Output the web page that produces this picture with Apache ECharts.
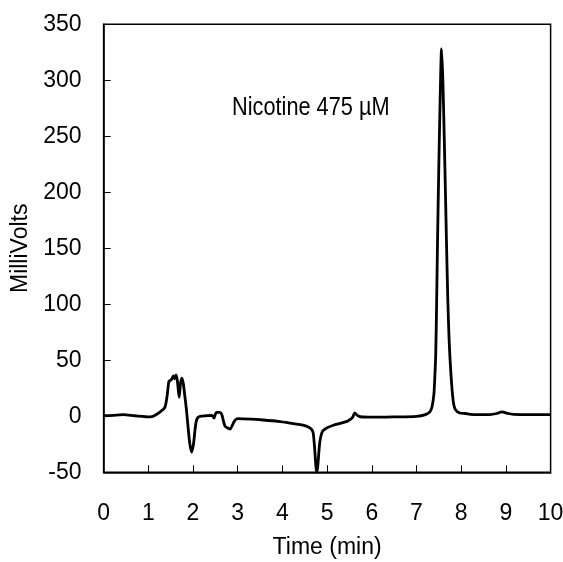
<!DOCTYPE html>
<html>
<head>
<meta charset="utf-8">
<script src="https://cdn.jsdelivr.net/npm/echarts@6/dist/echarts.min.js"></script>
<style>
html,body{margin:0;padding:0;background:#fff;}
#chart{width:563px;height:562px;}
</style>
</head>
<body>
<div id="chart"></div>
<script>
var timeMin = [0, 0.2, 0.44, 0.7, 1.04, 1.11, 1.25, 1.37, 1.42, 1.46, 1.49, 1.52, 1.56, 1.59, 1.62, 1.65, 1.69, 1.72, 1.75, 1.78, 1.80, 1.83, 1.86, 1.90, 1.93, 1.97, 2.01, 2.04, 2.07, 2.11, 2.16, 2.30, 2.42, 2.47, 2.50, 2.53, 2.60, 2.64, 2.68, 2.72, 2.78, 2.83, 2.88, 2.94, 3.01, 3.3, 3.57, 3.9, 4.17, 4.4, 4.55, 4.62, 4.66, 4.69, 4.72, 4.75, 4.77, 4.79, 4.82, 4.84, 4.88, 4.92, 4.99, 5.14, 5.29, 5.45, 5.51, 5.57, 5.62, 5.67, 5.74, 6.03, 6.5, 7.0, 7.20, 7.30, 7.35, 7.39, 7.41, 7.43, 7.45, 7.47, 7.50, 7.53, 7.56, 7.59, 7.62, 7.65, 7.67, 7.70, 7.73, 7.77, 7.82, 7.87, 7.97, 8.10, 8.20, 8.64, 8.80, 8.91, 9.05, 9.17, 9.5, 10];
var milliVolts = [0.5, 0.8, 1.5, 0.5, -0.5, 0, 3.5, 8, 18, 31, 32, 33, 36, 33.5, 37, 32, 17, 29, 34, 30, 24, 14, 3, -14, -25, -32, -25, -14, -5, -1, 0, 0.5, 0.8, -1.5, 2, 3.5, 3.5, 2, -4, -9, -10.5, -11.5, -8, -3.5, -2, -2.5, -3.3, -4.5, -6, -7.5, -9, -10.5, -12, -15, -28, -45, -50, -45, -30, -22, -15, -12.5, -10.5, -8, -6.3, -4.5, -3, -1, 3, 1, -0.4, -0.8, -0.5, 0, 1.5, 4, 9, 20, 35, 55, 100, 155, 225, 285, 328, 300, 250, 195, 157, 105, 68, 38, 14, 6, 3, 2.5, 1.8, 1.5, 2.5, 4, 2.5, 1.8, 1.5, 1.5];
var xTicks = [0, 1, 2, 3, 4, 5, 6, 7, 8, 9, 10];
var yTicks = [-50, 0, 50, 100, 150, 200, 250, 300, 350];
var annotation = 'Nicotine 475 \u00b5M';
var xTitle = 'Time (min)';
var yTitle = 'MilliVolts';

var FONT = '"Liberation Sans", Arial, sans-serif';
var pts = timeMin.map(function (t, i) { return [t, milliVolts[i]]; });

var chart = echarts.init(document.getElementById('chart'), null, {renderer: 'canvas'});
chart.setOption({
  backgroundColor: '#fff',
  animation: false,
  grid: {left: 103.6, right: 12.4, top: 24.3, bottom: 89.7, containLabel: false, outerBoundsMode: 'none', show: true, borderColor: '#000', borderWidth: 1.5, backgroundColor: 'transparent'},
  xAxis: {
    type: 'value', min: xTicks[0], max: xTicks[xTicks.length - 1], interval: 1,
    name: xTitle, nameLocation: 'middle', nameGap: 64,
    nameTextStyle: {fontFamily: FONT, fontSize: 23, color: '#000'},
    axisLine: {show: true, onZero: false, lineStyle: {color: '#000', width: 1.5}},
    axisTick: {show: true, inside: true, length: 7, lineStyle: {color: '#000', width: 1}},
    axisLabel: {fontFamily: FONT, fontSize: 23, color: '#000', margin: 30},
    splitLine: {show: false}
  },
  yAxis: {
    type: 'value', min: yTicks[0], max: yTicks[yTicks.length - 1], interval: 50,
    name: yTitle, nameLocation: 'middle', nameGap: 68, nameRotate: 90,
    nameTextStyle: {fontFamily: FONT, fontSize: 23, color: '#000'},
    axisLine: {show: true, onZero: false, lineStyle: {color: '#000', width: 1.5}},
    axisTick: {show: true, inside: true, length: 7, lineStyle: {color: '#000', width: 1}},
    axisLabel: {fontFamily: FONT, fontSize: 23, color: '#000', margin: 22},
    splitLine: {show: false}
  },
  graphic: [{
    type: 'text', left: 232, top: 96, scaleX: 0.87,
    style: {text: annotation, fontFamily: FONT, fontSize: 25, fill: '#000'}
  }],
  series: [{
    type: 'line', data: pts, showSymbol: false, symbol: 'none', smooth: 0.25,
    lineStyle: {color: '#000', width: 2.8}, clip: true
  }]
});
</script>
</body>
</html>
